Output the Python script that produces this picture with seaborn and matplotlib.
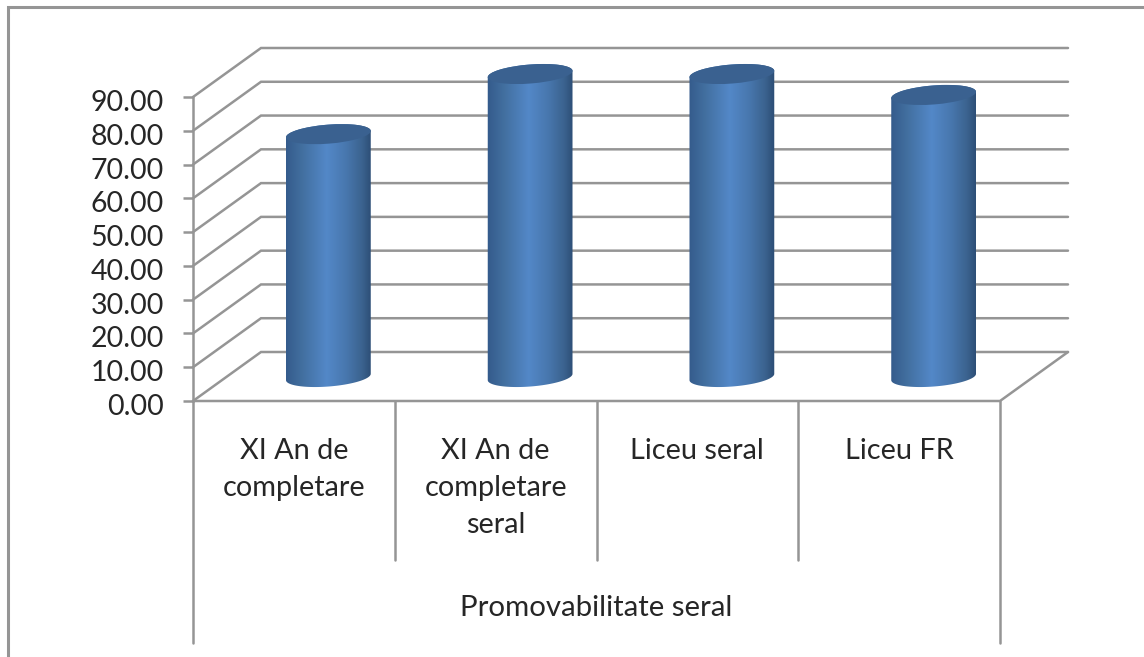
import numpy as np
import pandas as pd
import matplotlib
matplotlib.use("Agg")
import matplotlib.pyplot as plt
from matplotlib.colors import LinearSegmentedColormap
from matplotlib.patches import Ellipse
from matplotlib.path import Path
from matplotlib.transforms import IdentityTransform, ScaledTranslation
import seaborn as sns

# ------------------------------
# Data
# ------------------------------
categories = ["XI An de\ncompletare", "XI An de\ncompletare\nseral", "Liceu seral", "Liceu FR"]
values = [71.9, 89.7, 89.7, 83.5]
y_ticks = [0, 10, 20, 30, 40, 50, 60, 70, 80, 90]
group_label = "Promovabilitate seral"

W, H = 1144, 657
GREY = "#959595"
TEXT = "#262626"

sns.set_theme(style="white")
plt.rcParams["font.family"] = ["Lato", "DejaVu Sans"]

fig = plt.figure(figsize=(W / 100, H / 100), dpi=100, facecolor="white")


def px_axes(left, top, right, bottom):
    # axes placed from pixel edges of the picture
    return fig.add_axes([left / W, 1 - bottom / H, (right - left) / W, (bottom - top) / H])


# ------------------------------
# Frame and decoration layer, in pixels
# ------------------------------
deco = px_axes(0, 0, W, H)
deco.set_xlim(0, W)
deco.set_ylim(H, 0)
deco.axis("off")
deco.plot([8, 8, W], [H, 6.5, 6.5], color=GREY, lw=2.2, solid_joinstyle="miter")

# ------------------------------
# Plot box geometry
# ------------------------------
front_l, front_r, front_0, front_90 = 193, 1000, 401, 97
dx, dy = 68, -49

# front axes carries the value axis
ax = px_axes(front_l, front_90, front_r, front_0)
ax.set_xlim(0, len(categories))
ax.set_ylim(0, 90)
ax.patch.set_alpha(0)
ax.set_yticks(y_ticks)
ax.set_yticklabels([f"{t:.2f}" for t in y_ticks], fontsize=20.5, color=TEXT)
ax.set_xticks([])
ax.tick_params(axis="y", length=7, width=1.8, color=GREY, pad=14, left=True)
for lab in ax.get_yticklabels():
    lab.set_transform(lab.get_transform() + ScaledTranslation(0, -2.5 / 72, fig.dpi_scale_trans))
for s in ["top", "right", "bottom"]:
    ax.spines[s].set_visible(False)
ax.spines["left"].set_color(GREY)
ax.spines["left"].set_linewidth(1.8)

# walls: gridlines on the back wall and diagonals on the side wall
for t in y_ticks:
    yp = front_0 - (front_0 - front_90) * t / 90
    deco.plot([front_l, front_l + dx, front_r + dx], [yp, yp + dy, yp + dy],
              color=GREY, lw=1.8, solid_joinstyle="miter")
deco.plot([front_l, front_r, front_r + dx], [front_0, front_0, front_0 + dy], color=GREY, lw=1.8)

# category table below the floor
for i in range(len(categories) + 1):
    x = front_l + (front_r - front_l) * i / len(categories)
    end = 643 if i in (0, len(categories)) else 560
    deco.plot([x, x], [front_0, end], color=GREY, lw=1.8)
    if i < len(categories):
        deco.text(x + (front_r - front_l) / 8, 438, categories[i], ha="center", va="top",
                  fontsize=20.8, color=TEXT, linespacing=1.53)
deco.text((front_l + front_r) / 2, 608, group_label, ha="center", va="center", fontsize=21.2, color=TEXT)

# ------------------------------
# Cylinders, shifted half the depth back
# ------------------------------
base_y = 377
px_per_unit = (front_0 - front_90) / 90
bar_ax = px_axes(front_l + 34.5, base_y - 100 * px_per_unit, front_r + 34.5, base_y + 15 * px_per_unit)
df = pd.DataFrame({"categorie": categories, "valoare": values})
sns.barplot(data=df, x="categorie", y="valoare", ax=bar_ax, width=0.42, color="#4f81bd", saturation=1)
bar_ax.set_xlim(-0.5, len(categories) - 0.5)
bar_ax.set_ylim(-15, 100)
bar_ax.axis("off")
bar_ax.patch.set_alpha(0)

cmap = LinearSegmentedColormap.from_list(
    "cyl", [(0, "#33598a"), (0.2, "#426f9f"), (0.48, "#5388c8"), (0.7, "#4877ae"), (0.88, "#3b638f"), (1, "#2a4a72")])
shade = np.linspace(0, 1, 200).reshape(1, -1)

tilt_deg = 4.5
tilt = np.deg2rad(tilt_deg)
rx, ry = 42.5, 9.5   # half axes of the cylinder ends, pixels


def arc(cx, cy, t):
    # points of the tilted ellipse in display coordinates
    return np.column_stack([
        cx + rx * np.cos(t) * np.cos(tilt) - ry * np.sin(t) * np.sin(tilt),
        cy + rx * np.cos(t) * np.sin(tilt) + ry * np.sin(t) * np.cos(tilt),
    ])


t_r = np.arctan2(-ry * np.sin(tilt), rx * np.cos(tilt))   # rightmost point of the ellipse
for bar in list(bar_ax.patches):
    x0, w, v = bar.get_x(), bar.get_width(), bar.get_height()
    xc = x0 + w / 2
    bar.set_visible(False)
    cx, cy_top = bar_ax.transData.transform((xc, v))
    _, cy_bot = bar_ax.transData.transform((xc, 0))
    upper = arc(cx, cy_top, np.linspace(t_r, t_r + np.pi, 60))
    lower = arc(cx, cy_bot, np.linspace(t_r + np.pi, t_r + 2 * np.pi, 60))
    outline = np.vstack([upper, lower, upper[:1]])
    body = bar_ax.imshow(shade, cmap=cmap, aspect="auto", extent=[x0 - 0.01, x0 + w + 0.01, -15, v + 8],
                         zorder=2, interpolation="bilinear")
    body.set_clip_path(Path(outline), IdentityTransform())
    cap = Ellipse((cx, cy_top), 2 * rx, 2 * ry, angle=tilt_deg, transform=IdentityTransform(),
                  fc="#3a6190", ec="none", zorder=3)
    bar_ax.add_patch(cap)
    cap.set_clip_on(False)
bar_ax.set_xlim(-0.5, len(categories) - 0.5)
bar_ax.set_ylim(-15, 100)

fig.savefig("out.png", dpi=100, facecolor="white")
